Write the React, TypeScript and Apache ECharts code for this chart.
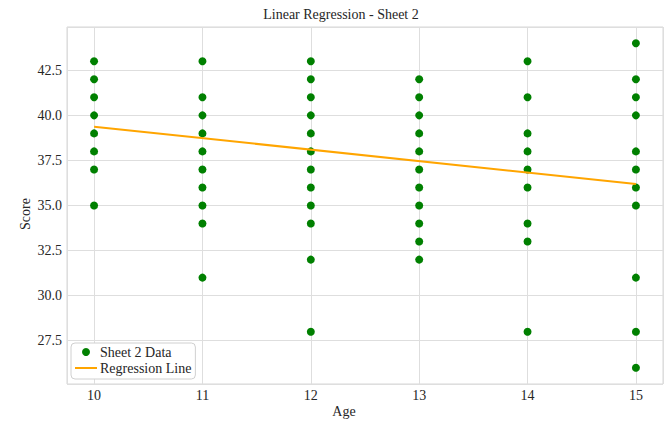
import React, { useEffect, useRef } from "react";
import * as echarts from "echarts";

// Ages (x) and the scores observed at each age
const ages = [10, 11, 12, 13, 14, 15];
const scoresAt10 = [43, 42, 41, 40, 39, 38, 37, 35];
const scoresAt11 = [43, 41, 40, 39, 38, 37, 36, 35, 34, 31];
const scoresAt12 = [43, 42, 41, 40, 39, 38, 37, 36, 35, 34, 32, 28];
const scoresAt13 = [42, 41, 40, 39, 38, 37, 36, 35, 34, 33, 32];
const scoresAt14 = [43, 41, 39, 38, 37, 36, 34, 33, 28];
const scoresAt15 = [44, 42, 41, 40, 38, 37, 36, 35, 31, 28, 26];
const scoresByAge = [scoresAt10, scoresAt11, scoresAt12, scoresAt13, scoresAt14, scoresAt15];

// Regression line (end points)
const lineAges = [10, 15];
const lineScores = [39.37, 36.19];

const titleText = "Linear Regression - Sheet 2";
const xName = "Age";
const yName = "Score";
const scatterName = "Sheet 2 Data";
const lineName = "Regression Line";

const FONT = "Liberation Serif";

export default function App() {
  const ref = useRef<HTMLDivElement>(null);

  useEffect(() => {
    if (!ref.current) return;
    const chart = echarts.init(ref.current, undefined, { renderer: "svg" });

    const scatterData: number[][] = [];
    ages.forEach((a, i) => {
      scoresByAge[i].forEach((s) => scatterData.push([a, s]));
    });
    const lineData = lineAges.map((a, i) => [a, lineScores[i]]);

    chart.setOption({
      animation: false,
      backgroundColor: "#ffffff",
      textStyle: { fontFamily: FONT },
      grid: {
        left: 67,
        top: 27,
        width: 596,
        height: 357,
        show: true,
        borderColor: "#d6d6d6",
        borderWidth: 1,
        backgroundColor: "transparent",
      },
      xAxis: {
        type: "value",
        min: 9.75,
        max: 15.25,
        minInterval: 1,
        maxInterval: 1,
        splitNumber: 5,
        axisLine: { show: false },
        axisTick: { show: false },
        splitLine: { show: true, lineStyle: { color: "#dedede", width: 1 } },
        axisLabel: {
          showMinLabel: false,
          showMaxLabel: false,
          margin: 4,
          fontSize: 14,
          color: "#262626",
          fontFamily: FONT,
          formatter: (v: number) => String(Math.round(v)),
        },
      },
      yAxis: {
        type: "value",
        min: 25.1,
        max: 44.9,
        minInterval: 2.5,
        maxInterval: 2.5,
        splitNumber: 8,
        axisLine: { show: false },
        axisTick: { show: false },
        splitLine: { show: true, lineStyle: { color: "#dedede", width: 1 } },
        axisLabel: {
          showMinLabel: false,
          showMaxLabel: false,
          margin: 5,
          fontSize: 14,
          color: "#262626",
          fontFamily: FONT,
          formatter: (v: number) => v.toFixed(1),
        },
      },
      legend: {
        orient: "vertical",
        left: 71,
        top: 343,
        backgroundColor: "#ffffff",
        borderColor: "#d0d0d0",
        borderWidth: 1,
        borderRadius: 4,
        padding: [2, 4, 4, 4],
        itemGap: 2,
        itemWidth: 22,
        itemHeight: 8,
        textStyle: { fontSize: 14, color: "#262626", fontFamily: FONT, padding: [0, 0, 0, -2] },
        data: [
          { name: scatterName, icon: "circle" },
          {
            name: lineName,
            icon: "path://M0,0 L22,0 L22,2 L0,2 Z",
            itemStyle: { color: "#ffa500" },
          },
        ],
      },
      graphic: [
        {
          type: "text",
          x: 341,
          y: 14,
          style: {
            text: titleText,
            fontSize: 14,
            fontFamily: FONT,
            fill: "#262626",
            align: "center",
            verticalAlign: "middle",
          },
        },
        {
          type: "text",
          x: 344,
          y: 411,
          style: {
            text: xName,
            fontSize: 14,
            fontFamily: FONT,
            fill: "#262626",
            align: "center",
            verticalAlign: "middle",
          },
        },
        {
          type: "text",
          x: 25,
          y: 214,
          rotation: Math.PI / 2,
          style: {
            text: yName,
            fontSize: 14,
            fontFamily: FONT,
            fill: "#262626",
            align: "center",
            verticalAlign: "middle",
          },
        },
      ],
      series: [
        {
          name: scatterName,
          type: "scatter",
          data: scatterData,
          symbol: "circle",
          symbolSize: 8,
          itemStyle: { color: "#008000", opacity: 1 },
          z: 2,
        },
        {
          name: lineName,
          type: "line",
          data: lineData,
          symbol: "none",
          showSymbol: false,
          lineStyle: { color: "#ffa500", width: 2 },
          itemStyle: { color: "#ffa500" },
          z: 3,
        },
      ],
    });

    return () => chart.dispose();
  }, []);

  return (
    <div
      ref={ref}
      style={{ position: "fixed", left: 0, top: 0, width: 669, height: 422 }}
    />
  );
}
